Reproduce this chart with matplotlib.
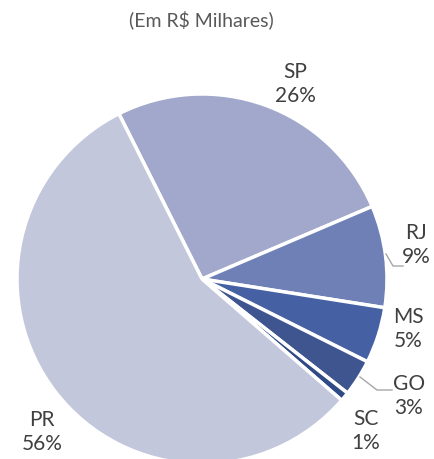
import matplotlib.pyplot as plt

# data (share of revenue by state, %)
states = ['SP', 'RJ', 'MS', 'GO', 'SC', 'PR']
shares = [26.0, 8.9, 4.9, 3.2, 0.8, 56.2]
colors = ['#a1a8cb', '#6e80b6', '#4561a4', '#3e5590', '#2f4a86', '#c3c7db']

# label anchor points in pixel coords (x, y from top)
label_pos = [(295, 84), (416, 245), (408, 329), (409, 396), (366, 431), (42, 432)]

plt.rcParams['font.family'] = ['Lato', 'DejaVu Sans']

fig = plt.figure(figsize=(4.34, 4.59), dpi=100)
ax = fig.add_axes([0, 0, 1, 1])
H = 459

ax.pie(shares, colors=colors, startangle=116.7, counterclock=False,
       center=(202, H - 279), radius=185,
       wedgeprops=dict(edgecolor='white', linewidth=2.5))

for name, val, (x, y) in zip(states, shares, label_pos):
    ax.text(x, H - y, f'{name}\n{round(val)}%', ha='center', va='center',
            fontsize=15, color='#404040', linespacing=1.3)

# leader lines
ax.plot([386, 393, 403], [H - 254, H - 266, H - 266], color='#a6a6a6', lw=1)
ax.plot([360, 377, 392], [H - 377, H - 390, H - 390], color='#a6a6a6', lw=1)

ax.text(201, H - 20, '(Em R$ Milhares)', ha='center', va='center',
        fontsize=14, color='#595959')

ax.set_xlim(0, 434)
ax.set_ylim(0, H)
ax.set_aspect('equal')
ax.axis('off')

fig.savefig('out.png', dpi=100)
